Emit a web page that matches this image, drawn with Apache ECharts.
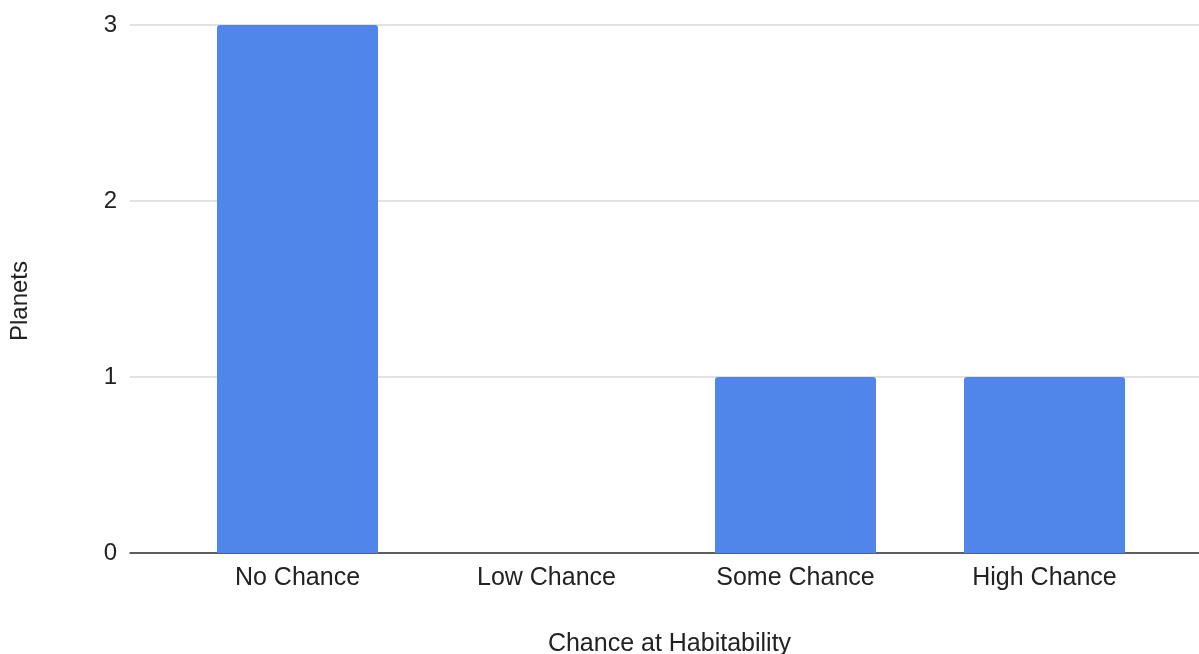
<!DOCTYPE html>
<html>
<head>
<meta charset="utf-8">
<title>Planets by Chance at Habitability</title>
<script src="https://cdn.jsdelivr.net/npm/echarts@6/dist/echarts.min.js"></script>
<style>
  html, body { margin: 0; padding: 0; background: #ffffff; }
  #chart { width: 1199px; height: 654px; }
</style>
</head>
<body>
<div id="chart"></div>
<script>
// Categories and counts
const categories = ['No Chance', 'Low Chance', 'Some Chance', 'High Chance'];
const planets = [3, 0, 1, 1];
const yTicks = [0, 1, 2, 3];

const barData = categories.map((c, i) => [i, planets[i]]);

const chart = echarts.init(document.getElementById('chart'), null, { renderer: 'canvas' });

const font = 'Liberation Sans, Arial, Helvetica, sans-serif';

chart.setOption({
  backgroundColor: '#ffffff',
  animation: false,
  grid: { left: 130, right: 0, top: 25, bottom: 101, containLabel: false, outerBoundsMode: 'none' },
  xAxis: {
    type: 'value',
    // category slots sit inside a wider plot band
    min: -0.6727,
    max: 3.6205,
    name: 'Chance at Habitability',
    nameLocation: 'middle',
    nameGap: 79,
    nameTextStyle: { fontFamily: font, fontSize: 25, color: '#222', padding: [0, 0, 0, 10] },
    axisLine: { show: true, lineStyle: { color: '#333', width: 1.5 } },
    axisTick: { show: false },
    splitLine: { show: false },
    axisLabel: {
      customValues: [0, 1, 2, 3],
      formatter: v => categories[Math.round(v)] || '',
      fontFamily: font,
      fontSize: 25,
      color: '#222',
      margin: 13
    }
  },
  yAxis: {
    type: 'value',
    min: yTicks[0],
    max: yTicks[yTicks.length - 1],
    interval: 1,
    name: 'Planets',
    nameLocation: 'middle',
    nameGap: 98,
    nameRotate: 90,
    nameTextStyle: { fontFamily: font, fontSize: 24, color: '#222', padding: [0, 24, 0, 0] },
    axisLine: { show: false },
    axisTick: { show: false },
    axisLabel: { fontFamily: font, fontSize: 24, color: '#222', margin: 13 },
    splitLine: { show: true, lineStyle: { color: '#d9d9d9', width: 1.5 } }
  },
  series: [{
    type: 'bar',
    data: barData,
    barWidth: 161,
    itemStyle: { color: '#5085ea', borderRadius: [3, 3, 0, 0] }
  }]
});
</script>
</body>
</html>
